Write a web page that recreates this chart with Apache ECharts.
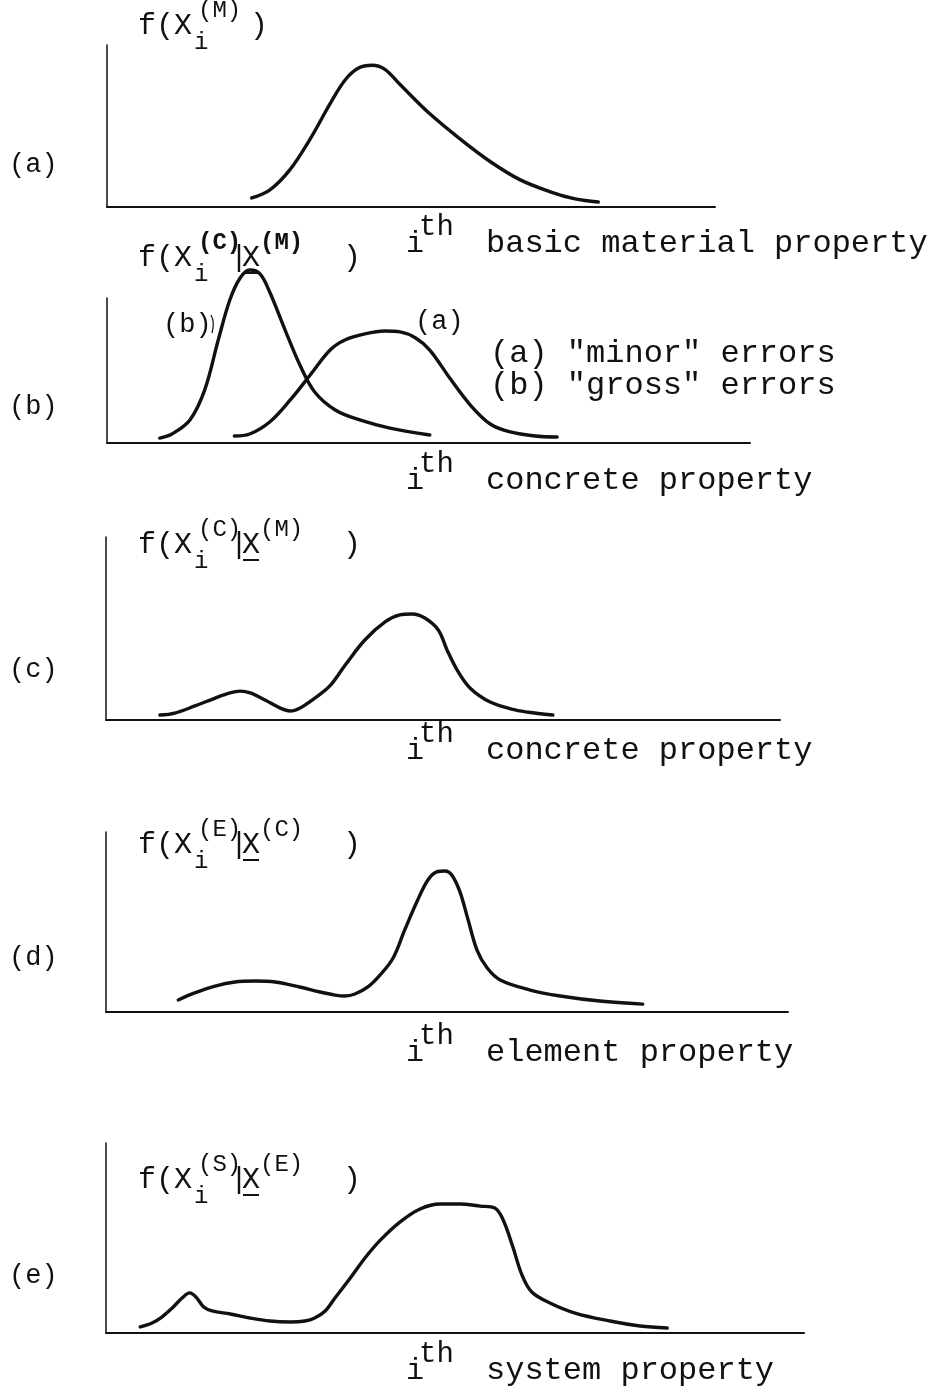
<!DOCTYPE html>
<html>
<head>
<meta charset="utf-8">
<title>Density functions at successive levels</title>
<script src="https://cdn.jsdelivr.net/npm/echarts@6/dist/echarts.min.js"></script>
<style>
  html, body { margin: 0; padding: 0; background: #fff; }
  #chart { width: 941px; height: 1390px; }
</style>
</head>
<body>
<div id="chart"></div>
<script>
// Sketched density curves, [property value, density] in axis units (0-100 each way)
const curveA = [[23.8,5.6],[26.8,10.6],[30.1,23.1],[33.4,41.9],[36.7,63.8],[39.1,78.1],[41.3,85.6],[43.6,87.5],[45.7,85],[48.2,75.6],[53.1,57.5],[58.1,41.9],[63,28.1],[67.9,16.9],[72.9,9.4],[77,5],[80.8,3.1]];
const curveBMinor = [[19.8,4.8],[22.2,6.2],[25.3,14.5],[28.5,29.7],[31.6,46.9],[34.7,64.1],[37,71],[40.1,75.2],[43.2,77.2],[45.6,76.6],[48,72.4],[50.2,64.1],[53.3,44.8],[56.5,26.2],[59.6,13.1],[62.7,7.6],[66.6,4.8],[70,4.1]];
const curveBGross = [[8.2,3.4],[10.1,6.2],[12.9,15.9],[15.2,36.6],[17.3,71],[19.1,98.6],[20.7,113.8],[22.2,119.3],[23.8,116.6],[25.3,104.1],[27.7,77.9],[30,53.8],[32.3,35.2],[35.5,22.8],[39.3,15.9],[44,10.3],[50.2,5.5]];
const curveC = [[8,2.7],[10.2,3.8],[13.2,7.7],[16.2,12],[18.4,14.8],[19.9,15.8],[21.4,14.8],[23.6,10.9],[25.8,6.6],[27.3,4.9],[28.8,6.6],[31,12],[33.2,18.6],[35.5,30.1],[38.4,43.7],[41.4,53.6],[43.6,57.4],[45.4,57.9],[47.3,55.7],[49.3,49.2],[50.6,38.3],[52.1,27.3],[54,17.5],[57,9.8],[60.7,5.5],[63.6,3.8],[66.3,2.7]];
const curveD = [[10.6,6.7],[13,10.6],[16,14.4],[18.9,16.7],[21.8,17.2],[24.8,16.7],[28.4,13.9],[31.4,11.1],[33.6,9.4],[35,8.9],[36.5,10],[38.4,13.9],[40.2,20.6],[42.1,30],[43.8,45.6],[45.7,62.2],[47.2,73.3],[48.5,77.8],[49.7,78.3],[50.7,76.1],[51.9,66.7],[53.1,51.1],[54.4,34.4],[55.9,24.4],[57.8,17.8],[62.2,12.2],[66.6,8.9],[72.4,6.1],[78.7,4.4]];
const curveE = [[4.9,3.2],[6.6,5.3],[8,8.4],[9.5,13.2],[10.9,18.4],[12,21.1],[12.9,18.9],[14,13.7],[15.2,11.6],[17.8,10],[20.6,7.9],[23.5,6.3],[26.4,5.8],[28.5,6.3],[29.9,7.9],[31.4,11.6],[32.8,18.4],[35,28.9],[37.1,39.5],[39.3,48.9],[42.1,58.4],[45,65.3],[47.9,67.9],[50.7,67.9],[53.6,66.8],[55.7,65.8],[56.9,59.5],[58.2,46.3],[59.6,30.5],[61,21.6],[63.6,15.8],[67.2,10.5],[72.2,6.3],[76.5,3.7],[80.4,2.6]];

// Text content
const panelTags = ['(a)', '(b)', '(c)', '(d)', '(e)'];
const xTitles = ['basic material property', 'concrete property', 'concrete property', 'element property', 'system property'];
const densitySup = [['(M)'], ['(C)', '(M)'], ['(C)', '(M)'], ['(E)', '(C)'], ['(S)', '(E)']];
const legendLines = ['(a) "minor" errors', '(b) "gross" errors'];
const curveTags = ['(b)', '(a)'];

const FONT = '"Liberation Mono", "Courier New", "DejaVu Sans Mono", monospace';
const INK = '#111';

// Plot areas for the five panels
const grids = [
  { left: 107, top: 45, width: 608, height: 162 },
  { left: 107, top: 298, width: 643, height: 145 },
  { left: 106, top: 537, width: 674, height: 183 },
  { left: 106, top: 832, width: 682, height: 180 },
  { left: 106, top: 1143, width: 698, height: 190 }
];

const xAxes = grids.map((g, i) => ({
  type: 'value', gridIndex: i, min: 0, max: 100,
  axisLine: { show: true, onZero: false, lineStyle: { color: INK, width: 2 } },
  axisTick: { show: false }, axisLabel: { show: false }, splitLine: { show: false }
}));
const yAxes = grids.map((g, i) => ({
  type: 'value', gridIndex: i, min: 0, max: 100,
  axisLine: { show: true, onZero: false, lineStyle: { color: INK, width: 1.5 } },
  axisTick: { show: false }, axisLabel: { show: false }, splitLine: { show: false }
}));

function curve(data, idx) {
  return {
    type: 'line', xAxisIndex: idx, yAxisIndex: idx, data: data,
    smooth: 0.35, showSymbol: false, clip: false, silent: true,
    lineStyle: { color: INK, width: 3.4, cap: 'round', join: 'round' }
  };
}

const series = [
  curve(curveA, 0),
  curve(curveBGross, 1),
  curve(curveBMinor, 1),
  curve(curveC, 2),
  curve(curveD, 3),
  curve(curveE, 4)
];

// Text helpers
function txt(s, x, y, size, weight) {
  return {
    type: 'text', silent: true, z: 10,
    style: {
      text: s, x: x, y: y, fill: INK,
      font: (weight ? weight + ' ' : '') + size + 'px ' + FONT,
      verticalAlign: 'middle', align: 'left'
    }
  };
}

const graphics = [];

// Panel tags at the left margin
const tagY = [165, 407, 670, 958, 1276];
panelTags.forEach((t, i) => graphics.push(txt(t, 9, tagY[i], 27)));

// X titles: i^th ... property
const xTitleY = [244, 481, 751, 1053, 1371];
xTitles.forEach((t, i) => {
  const y = xTitleY[i];
  graphics.push(txt('i', 406, y, 30));
  graphics.push(txt('th', 419, y - 17, 29));
  graphics.push(txt(t, 486, y, 32));
});

// Density labels f(X_i^(.) | X^(.))
const densityY = [26, 258, 545, 845, 1180];
densitySup.forEach((sups, i) => {
  const y = densityY[i];
  const x0 = 138;
  const w = i === 1 ? 'bold' : '';
  graphics.push(txt('f(X', x0, y, 30));
  graphics.push(txt('i', x0 + 56, y + 17, 24));
  graphics.push(txt(sups[0], x0 + 60, y - 15, 24, w));
  if (sups.length === 1) {
    graphics.push(txt(')', x0 + 112, y, 30));
  } else {
    graphics.push(txt('|', x0 + 92, y, 30));
    graphics.push(txt('X', x0 + 104, y, 30));
    graphics.push({ type: 'line', silent: true, z: 10,
      shape: { x1: x0 + 105, y1: y + 15, x2: x0 + 121, y2: y + 15 },
      style: { stroke: INK, lineWidth: 2 } });
    graphics.push(txt(sups[1], x0 + 122, y - 15, 24, w));
    graphics.push(txt(')', x0 + 205, y, 30));
  }
});

// Curve tags and key in panel (b)
graphics.push(txt(curveTags[0], 163, 325, 27));
graphics.push({ type: 'bezierCurve', silent: true, z: 10,
  shape: { x1: 211, y1: 315, x2: 212, y2: 333, cpx1: 215, cpy1: 322 },
  style: { stroke: INK, lineWidth: 1.2, fill: null } });
graphics.push(txt(curveTags[1], 415, 322, 27));
graphics.push(txt(legendLines[0], 490, 354, 32));
graphics.push(txt(legendLines[1], 490, 386, 32));

const chart = echarts.init(document.getElementById('chart'), null, { renderer: 'canvas' });
chart.setOption({
  backgroundColor: '#ffffff',
  animation: false,
  grid: grids,
  xAxis: xAxes,
  yAxis: yAxes,
  series: series,
  graphic: graphics
});
</script>
</body>
</html>
